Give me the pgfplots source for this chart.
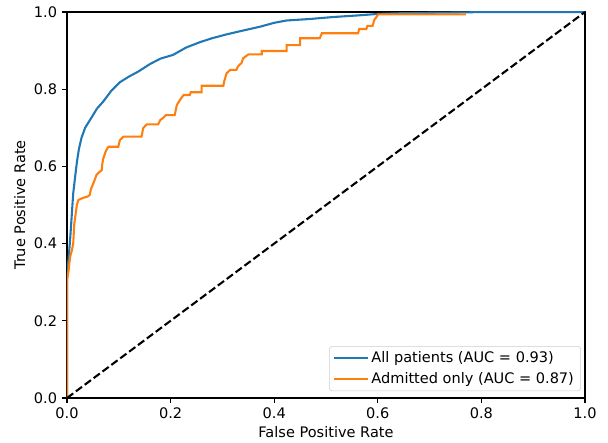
\documentclass[border=0pt]{standalone}
\usepackage{pgfplots}
\pgfplotsset{compat=1.18}
\usepackage{fontspec}
\setmainfont{DejaVu Sans}
\definecolor{mplblue}{HTML}{1F77B4}
\definecolor{mplorange}{HTML}{FF7F0E}
\begin{document}
\fontsize{10.9}{13}\selectfont
\begin{tikzpicture}
\path[use as bounding box] (-50.25pt,-33.75pt) rectangle (405.75pt,298.5pt);
\begin{axis}[
  at={(0,0)}, anchor=south west,
  scale only axis, width=388.5pt, height=289.5pt,
  xmin=0, xmax=1, ymin=0, ymax=1,
  xtick={0,0.2,0.4,0.6,0.8,1.0}, ytick={0,0.2,0.4,0.6,0.8,1.0},
  /pgf/number format/assume math mode=true,
  /pgf/number format/.cd, fixed, fixed zerofill, precision=1, /pgfplots/.cd,
  tick align=outside, tick pos=left,
  major tick length=3.6pt,
  every tick/.style={black, line width=0.83pt},
  axis line style={line width=0.83pt},
  tick label style={font=\fontsize{10.9}{12}\selectfont},
  xlabel={False Positive Rate}, ylabel={True Positive Rate},
  label style={font=\fontsize{10.9}{12}\selectfont},
  xlabel style={yshift=2pt},
  ylabel style={yshift=-1pt},
  legend style={at={(0.992,0.018)}, anchor=south east, draw=black!20, rounded corners=2pt, fill=white, fill opacity=0.8, text opacity=1, font=\fontsize{10.9}{12}\selectfont, row sep=1.5pt, inner xsep=3pt, inner ysep=2pt},
  legend cell align=left,
  legend image code/.code={\draw[#1] (0pt,0pt) -- (25pt,0pt);},
]
\addplot[mplblue, line width=1.56pt, line join=round] coordinates {
(0,0)(0,0.32)(0.003,0.36)(0.006,0.41)(0.009,0.47)(0.012,0.53)(0.015,0.565)(0.019,0.61)(0.023,0.645)(0.028,0.674)(0.035,0.70)(0.048,0.728)(0.058,0.75)(0.070,0.768)(0.085,0.795)(0.102,0.818)(0.12,0.833)(0.138,0.846)(0.16,0.865)(0.18,0.879)(0.205,0.889)(0.23,0.908)(0.257,0.922)(0.28,0.932)(0.308,0.942)(0.34,0.952)(0.373,0.962)(0.40,0.972)(0.424,0.978)(0.47,0.982)(0.514,0.987)(0.56,0.991)(0.6,0.995)(0.65,0.997)(0.7,0.998)(0.77,0.999)(0.8,1)(1,1)
};
\addlegendentry{All patients (AUC = 0.93)}
\addplot[mplorange, line width=1.56pt, line join=miter] coordinates {
(0,0)(0,0.305)(0.003,0.33)(0.006,0.366)(0.009,0.38)(0.012,0.40)(0.014,0.45)(0.017,0.48)(0.019,0.50)(0.022,0.513)(0.03,0.518)(0.04,0.522)(0.044,0.526)(0.046,0.54)(0.048,0.547)(0.052,0.56)(0.057,0.578)(0.062,0.585)(0.067,0.59)(0.068,0.605)(0.07,0.62)(0.075,0.64)(0.08,0.651)(0.099,0.651)(0.102,0.668)(0.109,0.677)(0.144,0.677)(0.147,0.699)(0.154,0.709)(0.176,0.709)(0.18,0.72)(0.185,0.725)(0.191,0.733)(0.208,0.733)(0.212,0.759)(0.218,0.772)(0.225,0.785)(0.237,0.785)(0.239,0.792)(0.26,0.792)(0.26,0.809)(0.302,0.809)(0.303,0.818)(0.308,0.841)(0.315,0.85)(0.327,0.85)(0.33,0.859)(0.337,0.868)(0.34,0.88)(0.35,0.89)(0.376,0.89)(0.376,0.899)(0.424,0.899)(0.424,0.914)(0.45,0.914)(0.45,0.932)(0.488,0.932)(0.492,0.945)(0.562,0.945)(0.564,0.956)(0.578,0.956)(0.58,0.964)(0.59,0.964)(0.593,0.979)(0.601,0.994)(0.77,0.994)
};
\addlegendentry{Admitted only (AUC = 0.87)}
\addplot[black, line width=1.56pt, dash pattern=on 5.8pt off 2.5pt, forget plot] coordinates {(0,0)(1,1)};
\end{axis}
\end{tikzpicture}
\end{document}
